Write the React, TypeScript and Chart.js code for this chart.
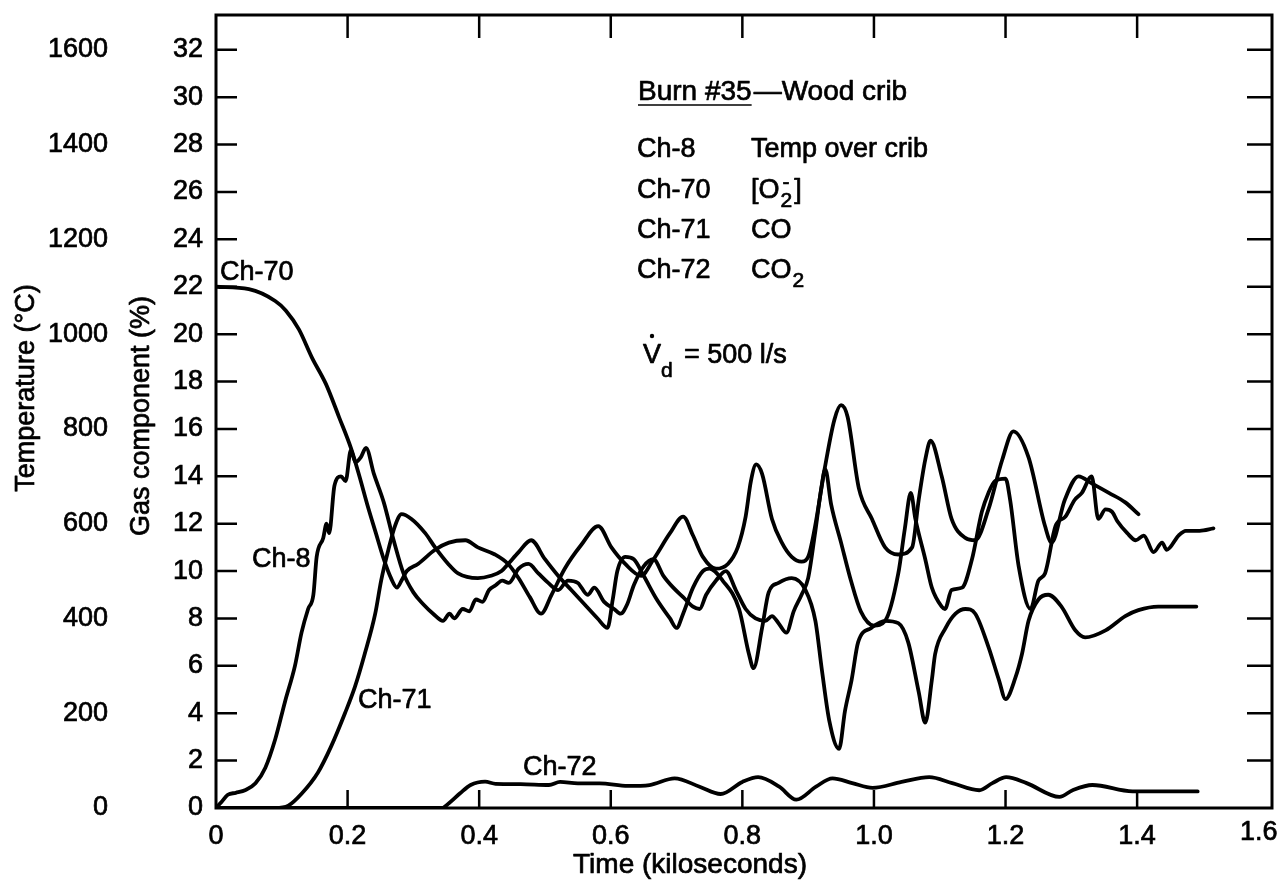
import React, { useEffect, useRef } from 'react';
import { Chart, registerables } from 'chart.js';

Chart.register(...registerables);

const FONT = "'Liberation Sans', Arial, Helvetica, sans-serif";
const TEXT_STROKE = 0.7;

// ---- Axis ticks ----
const timeTicksStep = 0.2; // kiloseconds
const gasTicksStep = 2; // %
const tempTicksStep = 200; // degC

// ---- Ch-8: Temperature over crib (degC) ----
const ch8Time = [0, 0.008, 0.018, 0.03, 0.045, 0.06, 0.075, 0.09, 0.105, 0.12, 0.13, 0.14, 0.148, 0.153, 0.163, 0.168, 0.172, 0.18, 0.19, 0.197, 0.205, 0.212, 0.22, 0.228, 0.24, 0.255, 0.27, 0.285, 0.3, 0.315, 0.33, 0.345, 0.355, 0.362, 0.375, 0.385, 0.395, 0.405, 0.415, 0.425, 0.435, 0.445, 0.46, 0.475, 0.49, 0.505, 0.52, 0.535, 0.55, 0.565, 0.575, 0.59, 0.605, 0.615, 0.625, 0.635, 0.65, 0.665, 0.68, 0.695, 0.71, 0.725, 0.735, 0.745, 0.76, 0.775, 0.79, 0.805, 0.82, 0.835, 0.845, 0.855, 0.867, 0.878, 0.89, 0.9, 0.91, 0.92, 0.926, 0.935, 0.95, 0.965, 0.98, 1.0, 1.017, 1.037, 1.047, 1.056, 1.063, 1.078, 1.088, 1.103, 1.108, 1.118, 1.134, 1.149, 1.164, 1.174, 1.184, 1.2, 1.207, 1.22, 1.238, 1.25, 1.26, 1.276, 1.291, 1.305, 1.316, 1.331, 1.341, 1.352, 1.362, 1.37, 1.385, 1.398, 1.41, 1.425, 1.438, 1.445, 1.463, 1.474, 1.495, 1.516];
const ch8Temp = [0, 12, 28, 32, 38, 52, 85, 145, 225, 300, 370, 420, 450, 530, 570, 600, 580, 680, 700, 690, 755, 730, 740, 760, 705, 645, 565, 495, 455, 430, 410, 395, 410, 400, 420, 415, 440, 435, 460, 470, 480, 475, 505, 515, 495, 475, 460, 480, 475, 450, 465, 435, 420, 410, 430, 470, 510, 525, 490, 465, 445, 425, 420, 450, 480, 500, 460, 420, 400, 395, 405, 390, 370, 415, 450, 485, 575, 675, 715, 640, 560, 480, 415, 385, 395, 495, 590, 665, 610, 525, 465, 425, 420, 460, 465, 525, 625, 665, 690, 695, 650, 510, 420, 480, 495, 595, 615, 650, 665, 700, 610, 630, 625, 605, 580, 565, 575, 540, 560, 545, 575, 585, 585, 590];

// ---- Ch-70: [O2-] (%) ----
const ch70Time = [0, 0.05, 0.09, 0.106, 0.126, 0.146, 0.167, 0.187, 0.205, 0.218, 0.23, 0.243, 0.255, 0.266, 0.275, 0.282, 0.29, 0.307, 0.333, 0.354, 0.379, 0.398, 0.424, 0.444, 0.46, 0.477, 0.494, 0.51, 0.53, 0.555, 0.581, 0.601, 0.622, 0.646, 0.665, 0.69, 0.71, 0.725, 0.74, 0.76, 0.778, 0.793, 0.805, 0.813, 0.821, 0.83, 0.845, 0.86, 0.875, 0.89, 0.9, 0.91, 0.925, 0.94, 0.95, 0.96, 0.977, 0.997, 1.017, 1.037, 1.058, 1.068, 1.078, 1.086, 1.103, 1.118, 1.139, 1.154, 1.174, 1.195, 1.212, 1.235, 1.26, 1.27, 1.29, 1.311, 1.331, 1.357, 1.382, 1.402];
const ch70Gas = [22.0, 21.9, 21.4, 21.0, 20.2, 19.0, 17.9, 16.5, 15.2, 14.0, 12.8, 11.6, 10.5, 9.7, 9.3, 9.6, 10.0, 10.3, 10.9, 11.2, 11.3, 11.0, 10.7, 10.3, 9.7, 8.9, 8.2, 9.0, 10.1, 11.1, 11.9, 11.0, 10.3, 9.8, 10.5, 11.6, 12.3, 11.5, 10.6, 10.1, 10.3, 11.0, 12.3, 13.8, 14.5, 14.1, 12.2, 11.2, 10.6, 10.4, 10.6, 11.8, 14.3, 16.4, 17.0, 16.5, 13.5, 12.2, 11.0, 10.7, 11.0, 13.0, 14.7, 15.5, 14.0, 12.2, 11.4, 11.3, 12.6, 14.7, 15.9, 14.8, 11.9, 11.2, 13.0, 14.0, 13.7, 13.3, 12.9, 12.4];

// ---- Ch-71: CO (%) ----
const ch71Time = [0, 0.09, 0.11, 0.13, 0.155, 0.175, 0.196, 0.211, 0.226, 0.242, 0.251, 0.262, 0.272, 0.282, 0.297, 0.318, 0.333, 0.353, 0.368, 0.398, 0.418, 0.434, 0.444, 0.46, 0.479, 0.5, 0.52, 0.54, 0.56, 0.58, 0.595, 0.603, 0.61, 0.622, 0.635, 0.65, 0.67, 0.69, 0.7, 0.71, 0.725, 0.74, 0.75, 0.77, 0.795, 0.81, 0.817, 0.83, 0.84, 0.855, 0.875, 0.896, 0.911, 0.921, 0.932, 0.947, 0.956, 0.966, 0.976, 0.996, 1.017, 1.037, 1.052, 1.068, 1.078, 1.088, 1.093, 1.109, 1.124, 1.139, 1.154, 1.174, 1.19, 1.2, 1.215, 1.225, 1.235, 1.25, 1.265, 1.285, 1.306, 1.321, 1.352, 1.382, 1.402, 1.432, 1.49];
const ch71Gas = [0, 0, 0.1, 0.6, 1.5, 2.6, 4.0, 5.1, 6.5, 8.2, 9.6, 10.9, 11.9, 12.4, 12.2, 11.6, 11.0, 10.3, 9.9, 9.7, 9.8, 10.0, 10.3, 10.8, 11.3, 10.5, 9.8, 9.2, 8.6, 8.0, 7.6, 8.8, 10.0, 10.6, 10.5, 9.8, 8.8, 8.0, 7.6, 8.2, 9.3, 10.0, 10.1, 9.6, 8.4, 6.5, 5.9, 7.6, 9.1, 9.5, 9.7, 9.2, 7.9, 5.8, 3.7, 2.5, 4.1, 5.4, 7.0, 7.6, 7.9, 7.8, 7.0, 4.9, 3.6, 5.4, 6.5, 7.6, 8.2, 8.4, 8.2, 6.8, 5.4, 4.6, 5.5, 6.5, 7.9, 8.8, 9.0, 8.5, 7.5, 7.2, 7.5, 8.1, 8.35, 8.5, 8.5];

// ---- Ch-72: CO2 (%) ----
const ch72Time = [0, 0.343, 0.354, 0.371, 0.387, 0.409, 0.425, 0.463, 0.506, 0.523, 0.55, 0.583, 0.626, 0.659, 0.697, 0.735, 0.767, 0.8, 0.824, 0.856, 0.882, 0.912, 0.937, 0.967, 0.998, 1.042, 1.084, 1.119, 1.16, 1.18, 1.201, 1.232, 1.282, 1.302, 1.332, 1.393, 1.492];
const ch72Gas = [0, 0, 0.2, 0.62, 0.97, 1.11, 1.02, 1.01, 0.97, 1.1, 1.04, 1.04, 0.93, 0.97, 1.25, 0.9, 0.59, 1.1, 1.3, 0.9, 0.35, 0.9, 1.25, 1.05, 0.85, 1.1, 1.3, 1.05, 0.75, 1.05, 1.3, 1.05, 0.47, 0.75, 0.97, 0.7, 0.7];

const toXY = (xs: number[], ys: number[]) => xs.map((x, i) => ({ x, y: ys[i] }));

export default function App() {
  const ref = useRef<HTMLCanvasElement>(null);

  useEffect(() => {
    document.body.style.margin = '0';
    const canvas = ref.current;
    if (!canvas) return;

    const decorPlugin = {
      id: 'decor',
      afterDraw(chart: any) {
        const { ctx, chartArea: a, scales } = chart;
        const xs = scales.x;
        const ys = scales.y;
        ctx.save();
        ctx.strokeStyle = '#000';
        ctx.fillStyle = '#000';
        // frame
        ctx.lineWidth = 3;
        ctx.strokeRect(a.left, a.top, a.right - a.left, a.bottom - a.top);
        // inward ticks
        ctx.lineWidth = 2.5;
        ctx.beginPath();
        for (const t of ys.ticks) {
          if (t.value === 0) continue;
          const py = ys.getPixelForValue(t.value);
          ctx.moveTo(a.left, py);
          ctx.lineTo(a.left + 21, py);
          ctx.moveTo(a.right, py);
          ctx.lineTo(a.right - 25, py);
        }
        for (const t of xs.ticks) {
          if (t.value === 0 || t.value > 1.55) continue;
          const px = xs.getPixelForValue(t.value);
          ctx.moveTo(px, a.bottom);
          ctx.lineTo(px, a.bottom - 18);
          ctx.moveTo(px, a.top);
          ctx.lineTo(px, a.top + 23);
        }
        ctx.stroke();

        ctx.lineWidth = TEXT_STROKE;
        ctx.lineJoin = 'round';
        const txt = (s: string, x: number, y: number) => {
          ctx.fillText(s, x, y);
          ctx.strokeText(s, x, y);
        };

        // last x tick label (kept inside the page)
        ctx.font = `27px ${FONT}`;
        ctx.textAlign = 'center';
        ctx.textBaseline = 'middle';
        txt('1.6', xs.getPixelForValue(1.6) - 10, a.bottom + 25);

        // x title
        ctx.font = `28px ${FONT}`;
        txt('Time (kiloseconds)', 690, 865);

        // y titles
        ctx.font = `27px ${FONT}`;
        ctx.save();
        ctx.translate(27, 388);
        ctx.rotate(-Math.PI / 2);
        txt('Temperature (°C)', 0, 0);
        ctx.restore();
        ctx.save();
        ctx.translate(142, 416);
        ctx.rotate(-Math.PI / 2);
        txt('Gas component (%)', 0, 0);
        ctx.restore();

        // annotations
        ctx.textAlign = 'left';
        ctx.textBaseline = 'alphabetic';
        ctx.font = `28px ${FONT}`;
        const burn = 'Burn #35';
        txt(burn, 638, 100);
        const bw = ctx.measureText(burn).width;
        ctx.lineWidth = 1.6;
        ctx.beginPath();
        ctx.moveTo(638, 105);
        ctx.lineTo(638 + bw, 105);
        ctx.stroke();
        ctx.lineWidth = TEXT_STROKE;
        txt('\u2014Wood crib', 638 + bw + 2, 100);

        const c1 = 637;
        const c2 = 751;
        const big = `27px ${FONT}`;
        const small = `21px ${FONT}`;
        ctx.font = big;
        txt('Ch-8', c1, 157);
        txt('Temp over crib', c2, 157);
        txt('Ch-70', c1, 198);
        txt('[O', c2, 198);
        let w = ctx.measureText('[O').width;
        ctx.font = small;
        txt('2', c2 + w + 1, 207);
        txt('-', c2 + w + 3, 189);
        const w2 = ctx.measureText('2').width;
        ctx.font = big;
        txt(']', c2 + w + w2 + 3, 198);
        txt('Ch-71', c1, 238);
        txt('CO', c2, 238);
        txt('Ch-72', c1, 278);
        txt('CO', c2, 278);
        w = ctx.measureText('CO').width;
        ctx.font = small;
        txt('2', c2 + w + 1, 287);

        // V-dot d
        ctx.font = big;
        txt('V', 643, 363);
        ctx.beginPath();
        ctx.arc(652, 336, 2.2, 0, Math.PI * 2);
        ctx.fill();
        ctx.font = small;
        txt('d', 661, 377);
        ctx.font = big;
        txt('= 500 l/s', 684, 363);

        // curve labels
        txt('Ch-70', 220, 280);
        txt('Ch-8', 252, 567);
        txt('Ch-71', 358, 708);
        txt('Ch-72', 523, 775);
        ctx.restore();
      },
    };

    const lineStyle = {
      borderColor: '#000',
      borderWidth: 3.8,
      pointRadius: 0,
      fill: false,
      cubicInterpolationMode: 'monotone' as const,
      borderJoinStyle: 'round' as const,
      borderCapStyle: 'round' as const,
    };

    const tickFont = { family: FONT, size: 27 };
    const tickText = { color: '#000', font: tickFont, textStrokeColor: '#000', textStrokeWidth: TEXT_STROKE };

    const chart = new Chart(canvas, {
      type: 'line',
      data: {
        datasets: [
          { label: 'Ch-8', data: toXY(ch8Time, ch8Temp), yAxisID: 'yT', ...lineStyle },
          { label: 'Ch-70', data: toXY(ch70Time, ch70Gas), yAxisID: 'y', ...lineStyle },
          { label: 'Ch-71', data: toXY(ch71Time, ch71Gas), yAxisID: 'y', ...lineStyle },
          { label: 'Ch-72', data: toXY(ch72Time, ch72Gas), yAxisID: 'y', ...lineStyle },
        ],
      },
      options: {
        animation: false,
        responsive: false,
        devicePixelRatio: 1,
        layout: { padding: { left: 0, right: 8, top: 15, bottom: 0 } },
        plugins: {
          legend: { display: false },
          tooltip: { enabled: false },
          title: { display: false },
        },
        scales: {
          x: {
            type: 'linear',
            position: 'bottom',
            min: 0,
            max: 1.605,
            grid: { display: false, drawTicks: false },
            border: { display: false },
            ticks: {
              ...tickText,
              stepSize: timeTicksStep,
              includeBounds: false,
              autoSkip: false,
              maxRotation: 0,
              padding: 12,
              callback: (v: any) => {
                const n = Number(v);
                if (n === 0) return '0';
                if (n > 1.55) return '';
                return n.toFixed(1);
              },
            },
            afterFit: (s: any) => {
              s.height = 80;
              s.paddingLeft = 0;
              s.paddingRight = 0;
            },
          },
          yT: {
            type: 'linear',
            position: 'left',
            weight: 2,
            min: 0,
            max: 1673.5,
            grid: { display: false, drawTicks: false },
            border: { display: false },
            ticks: {
              ...tickText,
              stepSize: tempTicksStep,
              includeBounds: false,
              autoSkip: false,
              padding: 14,
              callback: (v: any) => String(Math.round(Number(v))),
            },
            afterFit: (s: any) => {
              s.width = 122;
              s.paddingTop = 0;
              s.paddingBottom = 0;
            },
          },
          y: {
            type: 'linear',
            position: 'left',
            weight: 1,
            min: 0,
            max: 33.47,
            grid: { display: false, drawTicks: false },
            border: { display: false },
            ticks: {
              ...tickText,
              stepSize: gasTicksStep,
              includeBounds: false,
              autoSkip: false,
              padding: 13,
              callback: (v: any) => String(Math.round(Number(v))),
            },
            afterFit: (s: any) => {
              s.width = 94;
              s.paddingTop = 0;
              s.paddingBottom = 0;
            },
          },
        },
      } as any,
      plugins: [decorPlugin],
    });

    return () => chart.destroy();
  }, []);

  return (
    <div style={{ position: 'absolute', left: 0, top: 0, width: 1280, height: 888, background: '#fff' }}>
      <canvas ref={ref} width={1280} height={888} style={{ display: 'block' }} />
    </div>
  );
}
